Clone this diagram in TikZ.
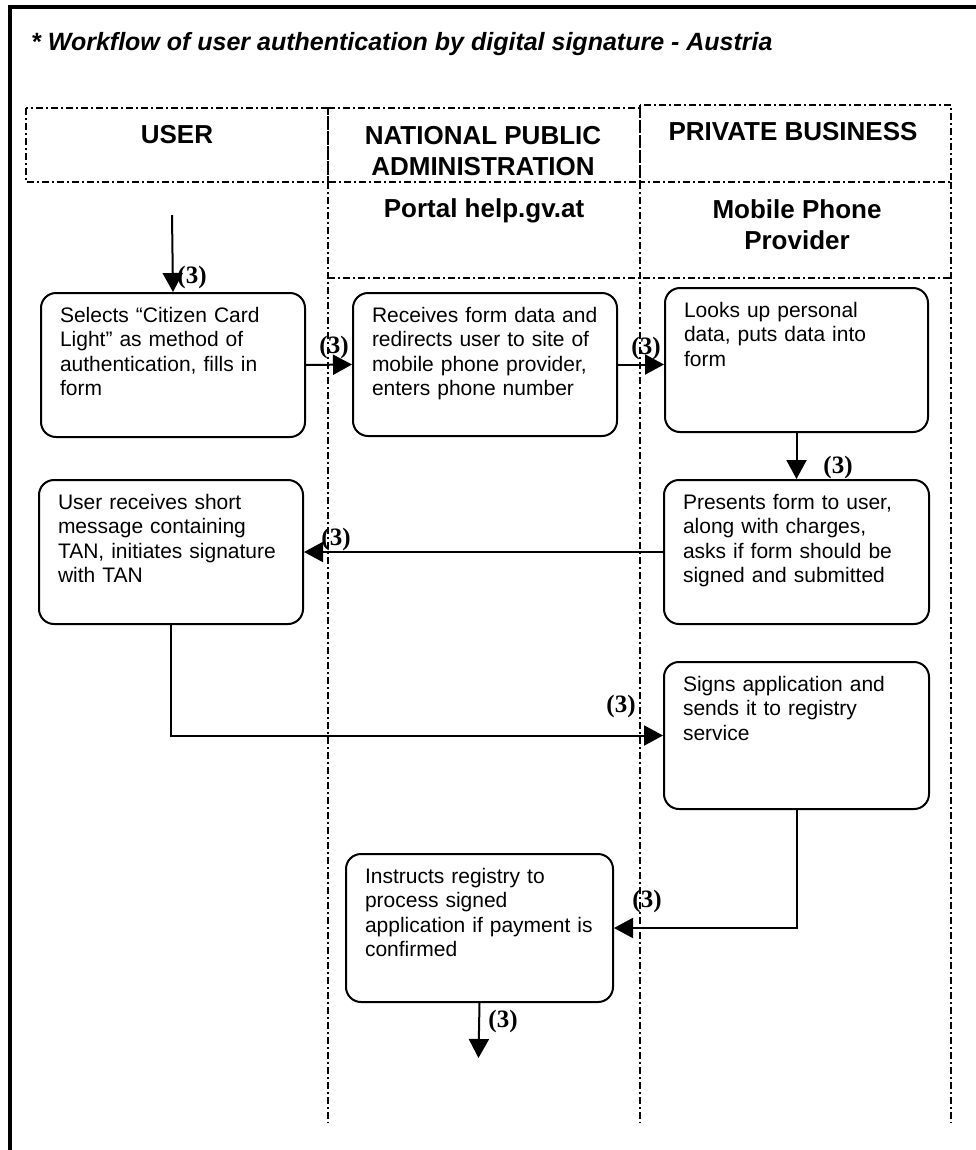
\documentclass[tikz,border=0pt]{standalone}
\usepackage{fontspec}
\setmainfont{Liberation Sans}
\newfontfamily\stepfamily{Liberation Serif}
\usetikzlibrary{arrows.meta}

\newcommand\boxfont{\fontsize{21bp}{24.6bp}\selectfont}
\newcommand\headfont{\fontsize{26bp}{31bp}\selectfont\bfseries}
\newcommand\titlefont{\fontsize{25bp}{30bp}\selectfont\bfseries\itshape}
\newcommand\stepfont{\stepfamily\bfseries\fontsize{25bp}{25bp}\selectfont}

\tikzset{
  lane/.style={line width=1.6bp, dash pattern=on 7bp off 3bp on 2bp off 3bp},
  frameline/.style={line width=4bp},
  procbox/.style={draw, line width=2bp, rounded corners=15bp, anchor=north west,
    align=left, inner xsep=19bp, inner ysep=13bp, text height=16bp, font=\boxfont},
  flow/.style={line width=2bp, -{Triangle[length=19bp,width=20bp]}},
  stepno/.style={font=\stepfont, inner sep=0bp},
  head/.style={font=\headfont, align=center, inner sep=0bp},
}

\begin{document}
\begin{tikzpicture}[x=1bp,y=-1bp]
  \useasboundingbox (0,0) rectangle (976,1150);
  \fill[white] (0,0) rectangle (976,1150);

  % outer frame (top and left edges)
  \draw[frameline] (10,1150) -- (10,7) -- (976,7);

  % title
  \node[anchor=base west, font=\titlefont, inner sep=0bp] (title) at (31,50)
    {* Workflow of user authentication by digital signature - Austria};

  % swimlane headers
  \draw[lane] (26,108) rectangle (328,182);
  \draw[lane] (328,108) rectangle (640,182);
  \draw[lane] (640,105) rectangle (951,182);
  \node[head] (hUser) at (177,135) {USER};
  \node[head] (hNpa) at (483,151) {NATIONAL PUBLIC\\ADMINISTRATION};
  \node[head] (hPb) at (793,132) {PRIVATE BUSINESS};

  % lane separators
  \draw[lane] (328,182) -- (328,1123);
  \draw[lane] (640,182) -- (640,1123);
  \draw[lane] (951,182) -- (951,1123);
  \draw[lane] (328,278) -- (951,278);

  % sub-lane titles
  \node[head, anchor=base] (sPortal) at (484,217) {Portal help.gv.at};
  \node[head] (sMobile) at (797,225) {Mobile Phone\\Provider};

  % process steps
  \node[procbox, text width=226bp, text depth=102bp] (b1) at (40,292)
    {Selects “Citizen Card\\Light” as method of\\authentication, fills in\\form};
  \node[procbox, text width=226bp, text depth=101bp] (b2) at (352,292)
    {Receives form data and\\redirects user to site of\\mobile phone provider,\\enters phone number};
  \node[procbox, text width=225bp, text depth=102bp] (b3) at (664,287)
    {Looks up personal\\data, puts data into\\form};
  \node[procbox, text width=227bp, text depth=102bp] (b4) at (663,479)
    {Presents form to user,\\along with charges,\\asks if form should be\\signed and submitted};
  \node[procbox, text width=226bp, text depth=102bp] (b5) at (38,479)
    {User receives short\\message containing\\TAN, initiates signature\\with TAN};
  \node[procbox, text width=227bp, text depth=105bp] (b6) at (663,661)
    {Signs application and\\sends it to registry\\service};
  \node[procbox, text width=229bp, text depth=106bp] (b7) at (345,853)
    {Instructs registry to\\process signed\\application if payment is\\confirmed};

  % connectors
  \coordinate (start) at (172,215);
  \coordinate (finish) at (478.5,1058);
  \draw[flow] (start) -- (b1.north);
  \draw[flow] (b1.east) -- (b2.west);
  \draw[flow] (b2.east) -- (b2.east -| b3.west);
  \draw[flow] (b3.south) -- (b4.north);
  \draw[flow] (b4.west) -- (b5.east);
  \draw[flow] (b5.south) |- (b6.west);
  \draw[flow] (b6.south) |- (b7.east);
  \draw[flow] (b7.south) -- (finish);

  % step numbers
  \node[stepno] (n1) at (192,277) {(3)};
  \node[stepno] (n2) at (334,347) {(3)};
  \node[stepno] (n3) at (646,348) {(3)};
  \node[stepno] (n4) at (838,467) {(3)};
  \node[stepno] (n5) at (336,539) {(3)};
  \node[stepno] (n6) at (621,706) {(3)};
  \node[stepno] (n7) at (647,901) {(3)};
  \node[stepno] (n8) at (503,1021) {(3)};
\end{tikzpicture}
\end{document}
